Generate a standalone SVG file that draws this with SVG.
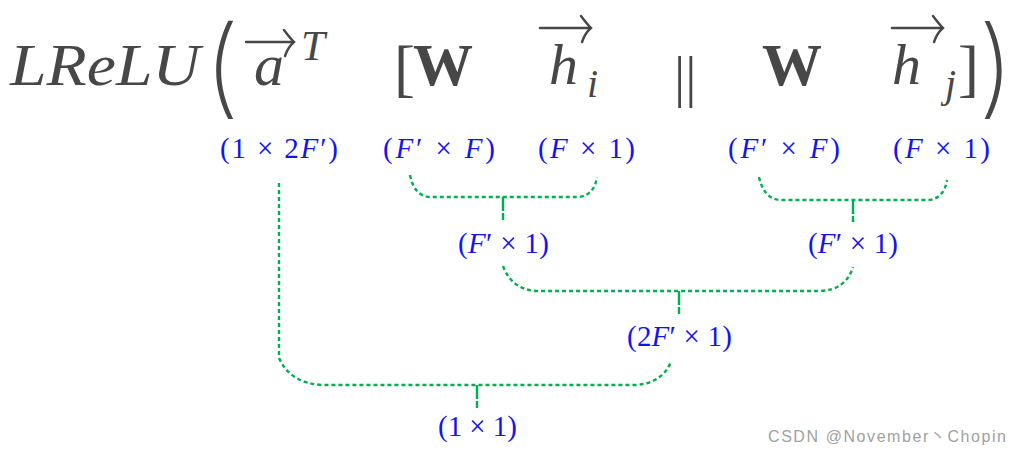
<svg xmlns="http://www.w3.org/2000/svg" width="1022" height="455" viewBox="0 0 1022 455">
<style>
.f{font-family:"Liberation Serif","DejaVu Serif",serif;fill:#474747}
.it{font-style:italic}
.bd{font-weight:bold}
.pr{font-family:"Inter","Lato","Liberation Sans",sans-serif;font-weight:200;fill:#474747}
.arr{fill:none;stroke:#474747;stroke-width:2.4;stroke-linecap:round}
.lb{font-family:"Liberation Serif","DejaVu Serif",serif;font-size:29px;fill:#1414f0}
.br{fill:none;stroke:#00b050;stroke-width:2.4;stroke-dasharray:4 3}
.st{fill:none;stroke:#00b050;stroke-width:2.4;stroke-dasharray:14 2}
.wm{font-family:"Liberation Sans","Noto Sans CJK SC",sans-serif;font-size:16px;fill:#a0a0a0}
</style>
<rect width="1022" height="455" fill="#ffffff"/>
<g id="formula">
<text class="f it" x="10" y="85" font-size="60" textLength="190" lengthAdjust="spacingAndGlyphs">LReLU</text>
<text class="pr" x="204" y="104" font-size="108">(</text>
<text class="f it" x="254" y="85" font-size="60">a</text>
<path class="arr" d="M246 42 H294 M284 30 Q290 38 294 42 Q288 47 285 56"/>
<text class="f it" x="301" y="60" font-size="43">T</text>
<text class="f" x="394" y="89" font-size="63">[</text>
<text class="f bd" x="413" y="85" font-size="60">W</text>
<text class="f it" x="549" y="84" font-size="58">h</text>
<path class="arr" d="M540 28 H591 M581 16 Q587 24 591 28 Q585 33 582 42"/>
<text class="f it" x="587" y="97" font-size="40">i</text>
<text class="f" x="674" y="96" font-size="56">||</text>
<text class="f bd" x="762" y="85" font-size="60">W</text>
<text class="f it" x="892" y="84" font-size="58">h</text>
<text class="f it" x="945" y="97" font-size="40">j</text>
<path class="arr" d="M892 28 H943 M933 16 Q939 24 943 28 Q937 33 934 42"/>
<text class="f" x="958" y="89" font-size="63">]</text>
<text class="pr" x="978" y="104" font-size="108">)</text>
</g>
<g id="connectors">
<path class="br" d="M410 175 Q414 196 430 197 H578 Q594 196 597 177"/>
<path class="st" d="M503 197 V220"/>
<path class="br" d="M759 177 Q764 199 780 200 H928 Q944 199 947 180"/>
<path class="st" d="M853 200 V222"/>
<path class="br" d="M503 266 Q512 290 537 291 H820 Q846 290 853 267"/>
<path class="st" d="M679 291 V314"/>
<path class="br" d="M279 183 V358 Q290 383 322 385 H636 Q662 383 671 362"/>
<path class="st" d="M477 385 V408"/>
</g>
<g id="dim-a"><text class="lb" x="220" y="158" textLength="118" lengthAdjust="spacing">(1 × 2<tspan font-style="italic">F</tspan>′)</text></g>
<g id="dim-W1"><text class="lb" x="383" y="158" textLength="112" lengthAdjust="spacing">(<tspan font-style="italic">F</tspan>′ × <tspan font-style="italic">F</tspan>)</text></g>
<g id="dim-hi"><text class="lb" x="538" y="158" textLength="97" lengthAdjust="spacing">(<tspan font-style="italic">F</tspan> × 1)</text></g>
<g id="dim-W2"><text class="lb" x="728" y="158" textLength="112" lengthAdjust="spacing">(<tspan font-style="italic">F</tspan>′ × <tspan font-style="italic">F</tspan>)</text></g>
<g id="dim-hj"><text class="lb" x="893" y="158" textLength="97" lengthAdjust="spacing">(<tspan font-style="italic">F</tspan> × 1)</text></g>
<g id="dim-Whi"><text class="lb" x="458" y="253" textLength="91" lengthAdjust="spacing">(<tspan font-style="italic">F</tspan>′ × 1)</text></g>
<g id="dim-Whj"><text class="lb" x="808" y="253" textLength="90" lengthAdjust="spacing">(<tspan font-style="italic">F</tspan>′ × 1)</text></g>
<g id="dim-concat"><text class="lb" x="627" y="346" textLength="105" lengthAdjust="spacing">(2<tspan font-style="italic">F</tspan>′ × 1)</text></g>
<g id="dim-result"><text class="lb" x="438" y="436" textLength="79" lengthAdjust="spacing">(1 × 1)</text></g>
<text class="wm" x="768" y="442" textLength="238" lengthAdjust="spacing">CSDN @November丶Chopin</text>
</svg>
